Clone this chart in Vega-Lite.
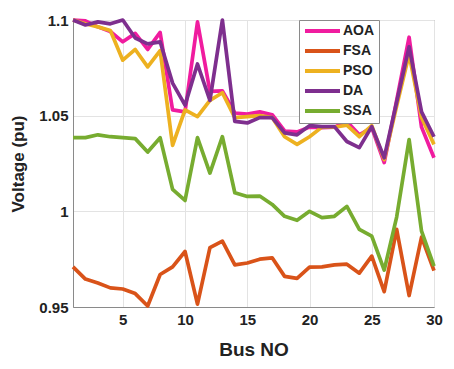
{
  "$schema": "https://vega.github.io/schema/vega-lite/v6.json",
  "width": 361,
  "height": 287,
  "autosize": {"type": "none"},
  "padding": {"left": 73, "top": 20, "right": 20, "bottom": 62},
  "background": "white",
  "config": {
    "font": "Liberation Sans",
    "view": {"stroke": "#8a8a8a", "strokeWidth": 1},
    "axis": {
      "domainColor": "#8a8a8a",
      "gridColor": "#e3e3e3",
      "labelFont": "Liberation Sans",
      "labelFontWeight": "bold",
      "labelFontSize": 15,
      "labelColor": "#222",
      "labelFlush": false,
      "titleFont": "Liberation Sans",
      "titleFontWeight": "bold",
      "titleColor": "#222",
      "tickSize": 0,
      "labelPadding": 5
    }
  },
  "data": {
    "values": [
      {"bus": 1, "alg": "AOA", "v": 1.1}, {"bus": 2, "alg": "AOA", "v": 1.0995}, {"bus": 3, "alg": "AOA", "v": 1.0964}, {"bus": 4, "alg": "AOA", "v": 1.094}, {"bus": 5, "alg": "AOA", "v": 1.0886},
      {"bus": 6, "alg": "AOA", "v": 1.093}, {"bus": 7, "alg": "AOA", "v": 1.0846}, {"bus": 8, "alg": "AOA", "v": 1.0935}, {"bus": 9, "alg": "AOA", "v": 1.053}, {"bus": 10, "alg": "AOA", "v": 1.052},
      {"bus": 11, "alg": "AOA", "v": 1.099}, {"bus": 12, "alg": "AOA", "v": 1.0627}, {"bus": 13, "alg": "AOA", "v": 1.063}, {"bus": 14, "alg": "AOA", "v": 1.0514}, {"bus": 15, "alg": "AOA", "v": 1.0508},
      {"bus": 16, "alg": "AOA", "v": 1.052}, {"bus": 17, "alg": "AOA", "v": 1.0505}, {"bus": 18, "alg": "AOA", "v": 1.042}, {"bus": 19, "alg": "AOA", "v": 1.0415}, {"bus": 20, "alg": "AOA", "v": 1.044},
      {"bus": 21, "alg": "AOA", "v": 1.0437}, {"bus": 22, "alg": "AOA", "v": 1.044}, {"bus": 23, "alg": "AOA", "v": 1.047}, {"bus": 24, "alg": "AOA", "v": 1.04}, {"bus": 25, "alg": "AOA", "v": 1.0437},
      {"bus": 26, "alg": "AOA", "v": 1.0255}, {"bus": 27, "alg": "AOA", "v": 1.058}, {"bus": 28, "alg": "AOA", "v": 1.091}, {"bus": 29, "alg": "AOA", "v": 1.044}, {"bus": 30, "alg": "AOA", "v": 1.028},

      {"bus": 1, "alg": "FSA", "v": 0.971}, {"bus": 2, "alg": "FSA", "v": 0.9646}, {"bus": 3, "alg": "FSA", "v": 0.9625}, {"bus": 4, "alg": "FSA", "v": 0.96}, {"bus": 5, "alg": "FSA", "v": 0.9594},
      {"bus": 6, "alg": "FSA", "v": 0.957}, {"bus": 7, "alg": "FSA", "v": 0.9505}, {"bus": 8, "alg": "FSA", "v": 0.967}, {"bus": 9, "alg": "FSA", "v": 0.971}, {"bus": 10, "alg": "FSA", "v": 0.979},
      {"bus": 11, "alg": "FSA", "v": 0.9515}, {"bus": 12, "alg": "FSA", "v": 0.981}, {"bus": 13, "alg": "FSA", "v": 0.9844}, {"bus": 14, "alg": "FSA", "v": 0.972}, {"bus": 15, "alg": "FSA", "v": 0.973},
      {"bus": 16, "alg": "FSA", "v": 0.975}, {"bus": 17, "alg": "FSA", "v": 0.9757}, {"bus": 18, "alg": "FSA", "v": 0.966}, {"bus": 19, "alg": "FSA", "v": 0.965}, {"bus": 20, "alg": "FSA", "v": 0.9708},
      {"bus": 21, "alg": "FSA", "v": 0.971}, {"bus": 22, "alg": "FSA", "v": 0.972}, {"bus": 23, "alg": "FSA", "v": 0.9724}, {"bus": 24, "alg": "FSA", "v": 0.9677}, {"bus": 25, "alg": "FSA", "v": 0.9766},
      {"bus": 26, "alg": "FSA", "v": 0.958}, {"bus": 27, "alg": "FSA", "v": 0.9906}, {"bus": 28, "alg": "FSA", "v": 0.956}, {"bus": 29, "alg": "FSA", "v": 0.9865}, {"bus": 30, "alg": "FSA", "v": 0.969},

      {"bus": 1, "alg": "PSO", "v": 1.1}, {"bus": 2, "alg": "PSO", "v": 1.098}, {"bus": 3, "alg": "PSO", "v": 1.0964}, {"bus": 4, "alg": "PSO", "v": 1.0945}, {"bus": 5, "alg": "PSO", "v": 1.079},
      {"bus": 6, "alg": "PSO", "v": 1.0846}, {"bus": 7, "alg": "PSO", "v": 1.0755}, {"bus": 8, "alg": "PSO", "v": 1.084}, {"bus": 9, "alg": "PSO", "v": 1.0345}, {"bus": 10, "alg": "PSO", "v": 1.053},
      {"bus": 11, "alg": "PSO", "v": 1.0495}, {"bus": 12, "alg": "PSO", "v": 1.058}, {"bus": 13, "alg": "PSO", "v": 1.062}, {"bus": 14, "alg": "PSO", "v": 1.049}, {"bus": 15, "alg": "PSO", "v": 1.0495},
      {"bus": 16, "alg": "PSO", "v": 1.05}, {"bus": 17, "alg": "PSO", "v": 1.049}, {"bus": 18, "alg": "PSO", "v": 1.039}, {"bus": 19, "alg": "PSO", "v": 1.035}, {"bus": 20, "alg": "PSO", "v": 1.039},
      {"bus": 21, "alg": "PSO", "v": 1.044}, {"bus": 22, "alg": "PSO", "v": 1.044}, {"bus": 23, "alg": "PSO", "v": 1.045}, {"bus": 24, "alg": "PSO", "v": 1.039}, {"bus": 25, "alg": "PSO", "v": 1.0448},
      {"bus": 26, "alg": "PSO", "v": 1.027}, {"bus": 27, "alg": "PSO", "v": 1.055}, {"bus": 28, "alg": "PSO", "v": 1.082}, {"bus": 29, "alg": "PSO", "v": 1.049}, {"bus": 30, "alg": "PSO", "v": 1.035},

      {"bus": 1, "alg": "DA", "v": 1.1}, {"bus": 2, "alg": "DA", "v": 1.0974}, {"bus": 3, "alg": "DA", "v": 1.099}, {"bus": 4, "alg": "DA", "v": 1.098}, {"bus": 5, "alg": "DA", "v": 1.1},
      {"bus": 6, "alg": "DA", "v": 1.0906}, {"bus": 7, "alg": "DA", "v": 1.0875}, {"bus": 8, "alg": "DA", "v": 1.0886}, {"bus": 9, "alg": "DA", "v": 1.067}, {"bus": 10, "alg": "DA", "v": 1.0555},
      {"bus": 11, "alg": "DA", "v": 1.077}, {"bus": 12, "alg": "DA", "v": 1.058}, {"bus": 13, "alg": "DA", "v": 1.1}, {"bus": 14, "alg": "DA", "v": 1.047}, {"bus": 15, "alg": "DA", "v": 1.0462},
      {"bus": 16, "alg": "DA", "v": 1.049}, {"bus": 17, "alg": "DA", "v": 1.049}, {"bus": 18, "alg": "DA", "v": 1.041}, {"bus": 19, "alg": "DA", "v": 1.04}, {"bus": 20, "alg": "DA", "v": 1.0448},
      {"bus": 21, "alg": "DA", "v": 1.0443}, {"bus": 22, "alg": "DA", "v": 1.0443}, {"bus": 23, "alg": "DA", "v": 1.0365}, {"bus": 24, "alg": "DA", "v": 1.0333}, {"bus": 25, "alg": "DA", "v": 1.0443},
      {"bus": 26, "alg": "DA", "v": 1.028}, {"bus": 27, "alg": "DA", "v": 1.057}, {"bus": 28, "alg": "DA", "v": 1.086}, {"bus": 29, "alg": "DA", "v": 1.052}, {"bus": 30, "alg": "DA", "v": 1.039},

      {"bus": 1, "alg": "SSA", "v": 1.0385}, {"bus": 2, "alg": "SSA", "v": 1.0385}, {"bus": 3, "alg": "SSA", "v": 1.04}, {"bus": 4, "alg": "SSA", "v": 1.039}, {"bus": 5, "alg": "SSA", "v": 1.0385},
      {"bus": 6, "alg": "SSA", "v": 1.038}, {"bus": 7, "alg": "SSA", "v": 1.031}, {"bus": 8, "alg": "SSA", "v": 1.0385}, {"bus": 9, "alg": "SSA", "v": 1.0115}, {"bus": 10, "alg": "SSA", "v": 1.0057},
      {"bus": 11, "alg": "SSA", "v": 1.0385}, {"bus": 12, "alg": "SSA", "v": 1.02}, {"bus": 13, "alg": "SSA", "v": 1.039}, {"bus": 14, "alg": "SSA", "v": 1.0097}, {"bus": 15, "alg": "SSA", "v": 1.0078},
      {"bus": 16, "alg": "SSA", "v": 1.008}, {"bus": 17, "alg": "SSA", "v": 1.0036}, {"bus": 18, "alg": "SSA", "v": 0.9974}, {"bus": 19, "alg": "SSA", "v": 0.9953}, {"bus": 20, "alg": "SSA", "v": 1.0},
      {"bus": 21, "alg": "SSA", "v": 0.9967}, {"bus": 22, "alg": "SSA", "v": 0.9974}, {"bus": 23, "alg": "SSA", "v": 1.0026}, {"bus": 24, "alg": "SSA", "v": 0.9906}, {"bus": 25, "alg": "SSA", "v": 0.987},
      {"bus": 26, "alg": "SSA", "v": 0.9693}, {"bus": 27, "alg": "SSA", "v": 0.997}, {"bus": 28, "alg": "SSA", "v": 1.0375}, {"bus": 29, "alg": "SSA", "v": 0.9896}, {"bus": 30, "alg": "SSA", "v": 0.9714}
    ]
  },
  "mark": {"type": "line", "strokeWidth": 3.7, "clip": false, "strokeJoin": "round"},
  "encoding": {
    "x": {
      "field": "bus",
      "type": "quantitative",
      "scale": {"domain": [1, 30], "nice": false, "zero": false},
      "axis": {"values": [5, 10, 15, 20, 25, 30], "title": "Bus NO", "titleFontSize": 19, "titlePadding": 13}
    },
    "y": {
      "field": "v",
      "type": "quantitative",
      "scale": {"domain": [0.95, 1.1], "nice": false, "zero": false},
      "axis": {"values": [0.95, 1, 1.05, 1.1], "format": "~g", "title": "Voltage (pu)", "titleFontSize": 17, "titlePadding": 11}
    },
    "color": {
      "field": "alg",
      "type": "nominal",
      "scale": {
        "domain": ["AOA", "FSA", "PSO", "DA", "SSA"],
        "range": ["#f01c9f", "#d95319", "#edb120", "#7e2f8e", "#77ac30"]
      },
      "legend": {
        "title": null,
        "orient": "none",
        "legendX": 226,
        "legendY": 0,
        "fillColor": "white",
        "strokeColor": "#8a8a8a",
        "padding": 4,
        "symbolType": "M-1,0H6",
        "symbolSize": 100,
        "symbolStrokeWidth": 4,
        "symbolFillColor": "transparent",
        "labelFont": "Liberation Sans",
        "labelFontSize": 14,
        "labelFontWeight": "bold",
        "labelColor": "#222",
        "labelOffset": 26,
        "rowPadding": 4
      }
    }
  }
}
